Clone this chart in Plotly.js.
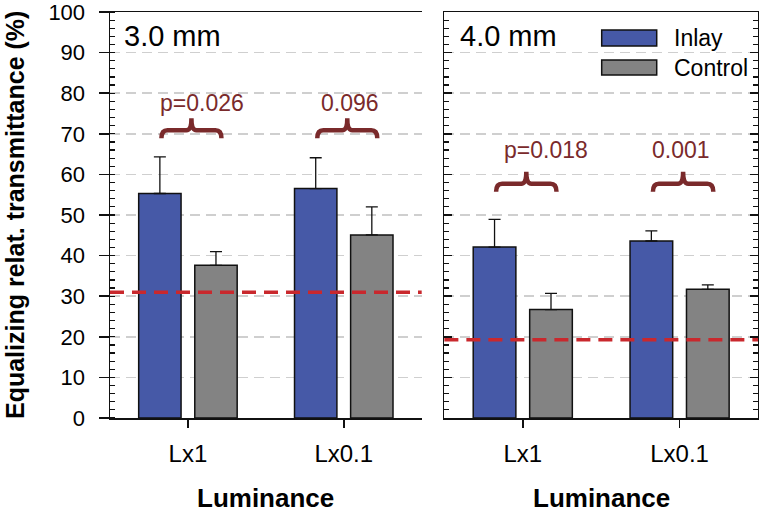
<!DOCTYPE html>
<html>
<head>
<meta charset="utf-8">
<script src="https://cdn.plot.ly/plotly-3.0.1.min.js"></script>
<style>html,body{margin:0;padding:0;background:#fff}#chart{width:759px;height:513px}</style>
</head>
<body>
<div id="chart"></div>
<script>
// ---- data ----
const categories = ['Lx1', 'Lx0.1'];
const panelLabels = ['3.0 mm', '4.0 mm'];
const seriesNames = ['Inlay', 'Control'];
const inlay3 = [55.3, 56.5];
const inlayErr3 = [9.0, 7.6];
const control3 = [37.6, 45.1];
const controlErr3 = [3.4, 6.9];
const inlay4 = [42.1, 43.6];
const inlayErr4 = [6.8, 2.5];
const control4 = [26.7, 31.7];
const controlErr4 = [4.0, 1.1];
const refLevel = [31.0, 19.3];
const pLabels3 = ['p=0.026', '0.096'];
const pLabels4 = ['p=0.018', '0.001'];
const braceY = [70.9, 57.7];
const pLabelY = [77.5, 65.9];
const pLabelDX3 = [0.09, 0.043];
const pLabelDX4 = [0.148, 0.011];
const yTickVals = [0, 10, 20, 30, 40, 50, 60, 70, 80, 90, 100];

// ---- style ----
const FONT = 'Liberation Sans, Arial, Helvetica, sans-serif';
const BLUE = '#4659a7';
const GRAY = '#838383';
const RED = '#c9282d';
const BROWN = '#7a2a2b';
const W = 759, H = 513, ML = 110, MR = 1, MT = 12, MB = 95;
const PW = W - ML - MR, PH = H - MT - MB;
const dom1 = [0, 0.481];
const dom2 = [0.516, 1];

function bars(x, y, err, name, color, offset, xa, ya) {
  return {
    type: 'bar', x: x, y: y, name: name, xaxis: xa, yaxis: ya,
    width: 0.272, offset: offset, showlegend: false,
    marker: {color: color, line: {color: '#111', width: 1.5}},
    error_y: {type: 'data', symmetric: false, array: err, arrayminus: err.map(() => 0),
              color: '#111', thickness: 1.3, width: 6}
  };
}

const data = [
  bars(categories, inlay3, inlayErr3, seriesNames[0], BLUE, -0.316, 'x', 'y'),
  bars(categories, control3, controlErr3, seriesNames[1], GRAY, 0.044, 'x', 'y'),
  bars(categories, inlay4, inlayErr4, seriesNames[0], BLUE, -0.316, 'x2', 'y2'),
  bars(categories, control4, controlErr4, seriesNames[1], GRAY, 0.044, 'x2', 'y2')
];

const pxPerX = PW * (dom1[1] - dom1[0]) / 2;
const pxPerY = PH / 100;
function bracePath(cx, y) {
  const dx = 1 / pxPerX, dy = 1 / pxPerY;
  const xa = cx - 0.17, xb = cx + 0.215, xm = (xa + xb) / 2;
  return `M ${xa},${y - 8 * dy} Q ${xa},${y} ${xa + 6 * dx},${y} L ${xm - 5 * dx},${y} ` +
         `Q ${xm},${y} ${xm},${y + 12 * dy} Q ${xm},${y} ${xm + 5 * dx},${y} ` +
         `L ${xb - 6 * dx},${y} Q ${xb},${y} ${xb},${y - 8 * dy}`;
}

const shapes = [];
const annotations = [];
const panelAxes = [['x', 'y'], ['x2', 'y2']];
const pLabelSets = [pLabels3, pLabels4];
const pDX = [pLabelDX3, pLabelDX4];
panelAxes.forEach(([xa, ya], p) => {
  shapes.push({type: 'line', xref: xa + ' domain', yref: ya, x0: 0, x1: 1,
    y0: refLevel[p], y1: refLevel[p], layer: 'above',
    line: {color: RED, width: 3.5, dash: '14px,8px'}});
  categories.forEach((c, i) => {
    shapes.push({type: 'path', xref: xa, yref: ya, path: bracePath(i, braceY[p]),
      line: {color: BROWN, width: 4.5}, layer: 'above'});
    annotations.push({xref: xa, yref: ya, x: i + pDX[p][i], y: pLabelY[p], text: pLabelSets[p][i],
      showarrow: false, xanchor: 'center', yanchor: 'middle',
      font: {family: FONT, size: 23, color: BROWN}});
  });
  annotations.push({xref: xa + ' domain', yref: ya + ' domain', x: p === 0 ? 0.038 : 0.044, y: 0.941,
    text: panelLabels[p], showarrow: false, xanchor: 'left', yanchor: 'middle',
    font: {family: FONT, size: 29, color: '#000'}});
  annotations.push({xref: xa + ' domain', yref: 'paper', x: 0.5, y: (418 - 498) / PH,
    text: '<b>Luminance</b>', showarrow: false, xanchor: 'center', yanchor: 'middle',
    font: {family: FONT, size: 26, color: '#000'}});
});

// manual legend inside right panel
const legendColors = [BLUE, GRAY];
const legendY = [[0.9163, 0.9557], [0.8448, 0.8818]];
seriesNames.forEach((n, i) => {
  shapes.push({type: 'rect', xref: 'paper', yref: 'paper', x0: 0.7588, x1: 0.8437,
    y0: legendY[i][0], y1: legendY[i][1], fillcolor: legendColors[i],
    line: {color: '#111', width: 1.5}, layer: 'above'});
  annotations.push({xref: 'paper', yref: 'paper', x: 0.8668, y: (legendY[i][0] + legendY[i][1]) / 2,
    text: n, showarrow: false, xanchor: 'left', yanchor: 'middle',
    font: {family: FONT, size: 23, color: '#000'}});
});

annotations.push({xref: 'paper', yref: 'paper', x: (15 - ML) / PW, y: 0.5, textangle: -90,
  text: '<b>Equalizing relat. transmittance (%)</b>', showarrow: false,
  xanchor: 'center', yanchor: 'middle', font: {family: FONT, size: 25, color: '#000'}});

const xBase = {
  type: 'category', categoryorder: 'array', categoryarray: categories, range: [-0.5, 1.5],
  showline: true, linecolor: '#111', linewidth: 1.5, mirror: true,
  ticks: 'outside', ticklen: 8, tickwidth: 1.5, tickcolor: '#111', ticklabelstandoff: 6,
  tickfont: {family: FONT, size: 24, color: '#000'}, showgrid: false, zeroline: false, fixedrange: true
};
const yBase = {
  range: [0, 100], tickvals: yTickVals, showline: true, linecolor: '#111', linewidth: 1.5,
  showgrid: true, gridcolor: '#cfcfcf', gridwidth: 1.5, griddash: '10px,6px', zeroline: false,
  tickwidth: 1.5, tickcolor: '#111', fixedrange: true, ticklabeloverflow: 'allow',
  tickfont: {family: FONT, size: 22, color: '#000'}
};

const layout = {
  width: W, height: H, margin: {l: ML, r: MR, t: MT, b: MB},
  paper_bgcolor: '#fff', plot_bgcolor: '#fff', barmode: 'group', showlegend: false,
  font: {family: FONT, color: '#000'},
  xaxis: Object.assign({}, xBase, {domain: dom1, anchor: 'y'}),
  xaxis2: Object.assign({}, xBase, {domain: dom2, anchor: 'y2'}),
  yaxis: Object.assign({}, yBase, {anchor: 'x', ticks: 'outside', ticklen: 10, ticklabelstandoff: 9,
    minor: {dtick: 2, ticks: 'inside', ticklen: 5, tickcolor: '#111', tickwidth: 1.2, showgrid: false}}),
  yaxis3: Object.assign({}, yBase, {anchor: 'x', overlaying: 'y', side: 'right', showgrid: false,
    ticks: 'inside', ticklen: 8, showticklabels: false,
    minor: {dtick: 2, ticks: 'inside', ticklen: 5, tickcolor: '#111', tickwidth: 1.2, showgrid: false}}),
  yaxis2: Object.assign({}, yBase, {anchor: 'x2', ticks: 'inside', ticklen: 8, mirror: 'ticks',
    showticklabels: false,
    minor: {dtick: 2, ticks: 'inside', ticklen: 5, tickcolor: '#111', tickwidth: 1.2, showgrid: false}}),
  shapes: shapes,
  annotations: annotations
};

Plotly.newPlot('chart', data, layout, {staticPlot: true, displayModeBar: false});
</script>
</body>
</html>
